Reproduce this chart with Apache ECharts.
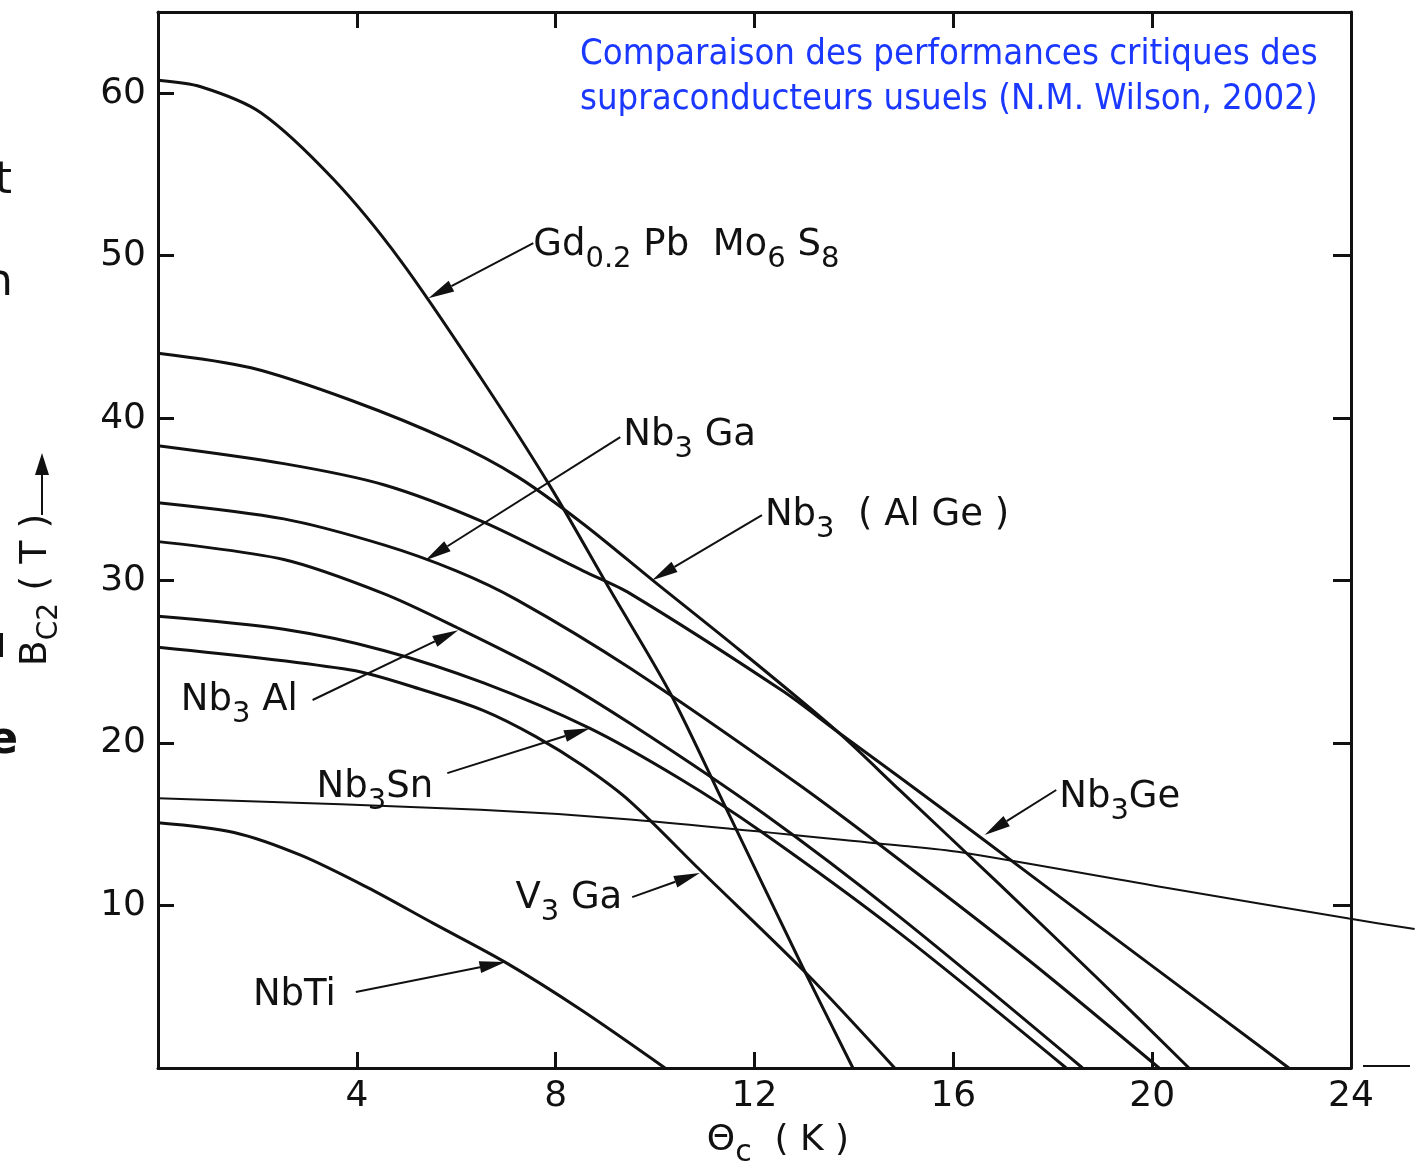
<!DOCTYPE html>
<html lang="fr">
<head>
    <meta charset="UTF-8">
    <title>Champ critique Bc2 des supraconducteurs</title>
    <script src="https://cdn.jsdelivr.net/npm/echarts@6/dist/echarts.min.js"></script>
    <style>
        html, body { margin: 0; padding: 0; background: #fff; }
        #container { width: 1420px; height: 1169px; }
    </style>
</head>
<body>
<div id="container"></div>
<script>
    // points : [theta_c (K), Bc2 (T)]
    const gdPbMo6S8 = [[0,60.8],[0.86,60.4],[2.07,58.8],[3.53,54.7],[4.88,49.7],[6.49,42.5],[7.89,35.8],[9.1,29.4],[10.3,23.1],[11.41,16.1],[12.97,6.2],[13.98,0]];
    const nb3AlGe = [[0,44.0],[1.87,43.1],[3.88,41.1],[5.88,38.6],[7.23,36.4],[8.55,33.5],[9.96,30.0],[11.71,25.7],[13.67,20.7],[14.92,17.1],[16.93,11.3],[18.94,5.4],[20.74,0]];
    const nb3Ge = [[0,38.3],[2.53,37.2],[4.54,35.9],[6.55,33.6],[8.55,30.6],[9.5,29.2],[12.57,23.2],[13.67,20.7],[14.92,17.9],[16.63,14.0],[18.94,8.7],[22.75,0]];
    const nb3Ga = [[0,34.8],[2.53,33.8],[4.54,32.2],[6.0,30.6],[7.23,28.8],[9.5,24.6],[12.91,17.4],[14.92,12.8],[17.53,6.6],[20.14,0]];
    const nb3Al = [[0,32.4],[2.53,31.3],[4.54,29.2],[6.02,27.1],[7.89,24.2],[9.5,21.2],[12.21,15.6],[14.92,9.3],[18.6,0]];
    const nb3Sn = [[0,27.8],[2.53,27.0],[4.54,25.7],[6.55,23.7],[8.69,20.9],[10.5,17.8],[12.11,14.6],[14.92,8.3],[18.27,0]];
    const v3Ga = [[0,25.9],[3.88,24.5],[5.3,23.3],[6.55,22.0],[7.6,20.4],[8.55,18.6],[9.5,16.4],[10.9,12.2],[13.05,5.8],[14.82,0]];
    const nbTi = [[0,15.1],[1.53,14.5],[2.87,13.1],[4.22,11.1],[5.54,8.9],[6.99,6.5],[8.5,3.6],[10.2,0]];
    // trait fin presque horizontal (depasse le cadre a droite)
    const strayLine = [[0,16.6],[6.49,15.9],[9.5,15.3],[14.92,13.7],[16.12,13.3],[20.28,11.1],[23.96,9.2],[25.28,8.55]];

    const xTickLabels = [4, 8, 12, 16, 20, 24];
    const yTickLabels = [10, 20, 30, 40, 50, 60];

    const curves = [
        ['Gd0.2PbMo6S8', gdPbMo6S8], ['Nb3(AlGe)', nb3AlGe], ['Nb3Ge', nb3Ge], ['Nb3Ga', nb3Ga],
        ['Nb3Al', nb3Al], ['Nb3Sn', nb3Sn], ['V3Ga', v3Ga], ['NbTi', nbTi]
    ];

    // etiquettes : position du texte, depart et pointe de la fleche (coordonnees du graphe)
    const notes = [
        {text: '{m|Gd}{s|0.2}{m| Pb  Mo}{s|6}{m| S}{s|8}', at: [7.55, 50.65], from: [7.55, 50.77], tip: [5.44, 47.38]},
        {text: '{m|Nb}{s|3}{m| Ga}', at: [9.36, 38.95], from: [9.3, 38.83], tip: [5.38, 31.26]},
        {text: '{m|Nb}{s|3}{m|  ( Al Ge )}', at: [12.21, 34.03], from: [12.15, 34.03], tip: [9.94, 30.03]},
        {text: '{m|Nb}{s|3}{m| Al}', at: [0.46, 22.65], from: [3.11, 22.65], tip: [6.04, 26.95]},
        {text: '{m|Nb}{s|3}{m|Sn}', at: [3.19, 17.29], from: [5.82, 18.15], tip: [8.69, 20.92]},
        {text: '{m|Nb}{s|3}{m|Ge}', at: [18.13, 16.68], from: [18.07, 17.11], tip: [16.63, 14.34]},
        {text: '{m|V}{s|3}{m| Ga}', at: [7.19, 10.46], from: [9.54, 10.52], tip: [10.9, 12.0]},
        {text: '{m|NbTi}', at: [1.91, 4.49], from: [3.98, 4.68], tip: [6.99, 6.52]}
    ];

    const FONT = "'DejaVu Sans', sans-serif";
    const INK = '#111';

    const dom = document.getElementById('container');
    const myChart = echarts.init(dom, null, {renderer: 'canvas'});

    function frameAxis(extra) {
        return Object.assign({
            type: 'value',
            axisLine: {show: true, onZero: false, lineStyle: {color: INK, width: 3}},
            axisTick: {show: true, inside: true, length: 16, lineStyle: {color: INK, width: 3}},
            splitLine: {show: false}
        }, extra);
    }

    const hiddenAxis = {type: 'value', show: false, splitLine: {show: false}};

    const option = {
        backgroundColor: '#fff',
        animation: false,
        grid: [
            {left: 158, right: 69, top: 12, bottom: 101},
            // meme echelle, elargie jusqu'au bord droit pour le trait fin qui deborde
            {left: 158, right: 4, top: 12, bottom: 101}
        ],
        xAxis: [
            frameAxis({
                gridIndex: 0, position: 'bottom', min: 0, max: 24, interval: 4,
                axisLabel: {
                    margin: 11, fontSize: 36, color: INK, fontFamily: FONT,
                    formatter: v => xTickLabels.includes(v) ? String(v) : ''
                }
            }),
            frameAxis({
                gridIndex: 0, position: 'top', min: 0, max: 24, interval: 4,
                axisTick: {show: true, inside: true, length: 16, customValues: [4, 8, 12, 16, 20],
                    lineStyle: {color: INK, width: 3}},
                axisLabel: {show: false}
            }),
            Object.assign({}, hiddenAxis, {gridIndex: 1, min: 0, max: 24 * (1420 - 158 - 4) / (1420 - 158 - 69)})
        ],
        yAxis: [
            frameAxis({
                gridIndex: 0, position: 'left', min: 0, max: 65, interval: 10,
                axisTick: {show: true, inside: true, length: 16, customValues: [10, 20, 30, 40, 50, 60],
                    lineStyle: {color: INK, width: 3}},
                axisLabel: {
                    margin: 12, fontSize: 36, color: INK, fontFamily: FONT,
                    formatter: v => yTickLabels.includes(v) ? String(v) : ''
                }
            }),
            frameAxis({
                gridIndex: 0, position: 'right', min: 0, max: 65, interval: 10,
                axisTick: {show: true, inside: true, length: 18, customValues: [10, 20, 30, 40, 50],
                    lineStyle: {color: INK, width: 3}},
                axisLabel: {show: false}
            }),
            Object.assign({}, hiddenAxis, {gridIndex: 1, min: 0, max: 65})
        ],
        series: curves.map(([name, pts]) => ({
            name: name,
            type: 'line',
            xAxisIndex: 0,
            yAxisIndex: 0,
            data: pts,
            showSymbol: false,
            smooth: 0.3,
            lineStyle: {color: INK, width: 3}
        })).concat([{
            name: 'trait',
            type: 'line',
            xAxisIndex: 2,
            yAxisIndex: 2,
            data: strayLine,
            showSymbol: false,
            smooth: 0.3,
            lineStyle: {color: INK, width: 2}
        }])
    };
    myChart.setOption(option);

    function px(p) {
        return myChart.convertToPixel({xAxisIndex: 0, yAxisIndex: 0}, p);
    }

    function arrow(p0, p1, len, wid) {
        const dx = p1[0] - p0[0], dy = p1[1] - p0[1];
        const L = Math.hypot(dx, dy);
        const ux = dx / L, uy = dy / L;
        const bx = p1[0] - ux * len, by = p1[1] - uy * len;
        const nx = -uy * wid / 2, ny = ux * wid / 2;
        return [
            {type: 'line', z: 10, shape: {x1: p0[0], y1: p0[1], x2: bx, y2: by},
                style: {stroke: INK, lineWidth: 2}},
            {type: 'polygon', z: 10, shape: {points: [[p1[0], p1[1]], [bx + nx, by + ny], [bx - nx, by - ny]]},
                style: {fill: INK}}
        ];
    }

    function fitFont(text, family, target) {
        const ctx = document.createElement('canvas').getContext('2d');
        ctx.font = '100px ' + family;
        return 100 * target / ctx.measureText(text).width;
    }

    const rich = {
        m: {fontSize: 37, fontFamily: FONT, lineHeight: 58, fill: INK},
        s: {fontSize: 29, fontFamily: FONT, lineHeight: 29, verticalAlign: 'bottom', fill: INK}
    };

    const graphics = [];
    notes.forEach(n => {
        const a = px(n.at);
        graphics.push({type: 'text', z: 10, x: a[0], y: a[1],
            style: {text: n.text, rich: rich, align: 'left', verticalAlign: 'middle', fill: INK}});
        graphics.push(...arrow(px(n.from), px(n.tip), 26, 12));
    });

    // titres des axes
    graphics.push({type: 'text', x: 36, y: 590, rotation: Math.PI / 2,
        style: {text: '{m|B}{s|C2}{m| ( T )}', align: 'center', verticalAlign: 'middle',
            rich: {
                m: {fontSize: 38, fontFamily: FONT, lineHeight: 56, fill: INK},
                s: {fontSize: 28, fontFamily: FONT, lineHeight: 28, verticalAlign: 'bottom', fill: INK}
            }}});
    graphics.push(...arrow([42, 515], [42, 453], 22, 14));
    graphics.push({type: 'text', x: 778, y: 1141,
        style: {text: '{m|Θ}{s|c}{m|  ( K )}', align: 'center', verticalAlign: 'middle',
            rich: {
                m: {fontSize: 36, fontFamily: FONT, lineHeight: 54, fill: INK},
                s: {fontSize: 30, fontFamily: FONT, lineHeight: 30, verticalAlign: 'bottom', fill: INK}
            }}});

    // legende bleue
    const titleFamily = "'DejaVu Sans Condensed', 'DejaVu Sans', sans-serif";
    const line1 = 'Comparaison des performances critiques des';
    const line2 = 'supraconducteurs usuels (N.M. Wilson, 2002)';
    const tSize = fitFont(line1, titleFamily, 738);
    graphics.push({type: 'text', x: 580, y: 55,
        style: {text: line1, font: tSize + 'px ' + titleFamily, fill: '#1a38ff', verticalAlign: 'middle'}});
    graphics.push({type: 'text', x: 580, y: 100,
        style: {text: line2, font: tSize + 'px ' + titleFamily, fill: '#1a38ff', verticalAlign: 'middle'}});

    // bouts de texte coupes au bord gauche et petit trait en bas a droite
    graphics.push({type: 'text', x: 12, y: 182, style: {text: 't', font: '44px ' + FONT, fill: INK, align: 'right', verticalAlign: 'middle'}});
    graphics.push({type: 'text', x: 13, y: 284, style: {text: 'n', font: '44px ' + FONT, fill: INK, align: 'right', verticalAlign: 'middle'}});
    graphics.push({type: 'text', x: 18, y: 742, style: {text: 'e', font: 'bold 44px ' + FONT, fill: INK, align: 'right', verticalAlign: 'middle'}});
    graphics.push({type: 'rect', shape: {x: 0, y: 633, width: 3, height: 24}, style: {fill: INK}});
    graphics.push({type: 'line', shape: {x1: 1363, y1: 1066, x2: 1410, y2: 1066}, style: {stroke: INK, lineWidth: 2}});

    myChart.setOption({graphic: graphics});
    window.addEventListener('resize', myChart.resize);
</script>
</body>
</html>
